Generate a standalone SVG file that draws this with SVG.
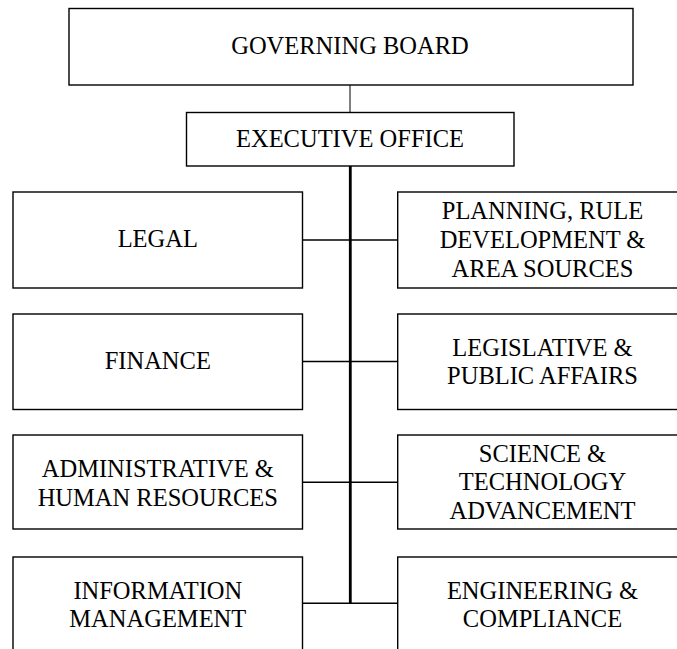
<svg xmlns="http://www.w3.org/2000/svg" width="677" height="649" viewBox="0 0 677 649">
<style>
.box{fill:#fff;stroke:#000;stroke-width:1.4}
.t{font-family:"Liberation Serif","Times New Roman",serif;font-size:24.5px;fill:#000;text-anchor:middle}
.c{stroke:#000;stroke-width:1.4;fill:none}
.thin{stroke:#000;stroke-width:1;fill:none}
.thick{stroke:#000;stroke-width:2.8;fill:none}
</style>
<rect width="677" height="649" fill="#fff"/>
<g id="connectors">
<line class="thin" x1="350" y1="85" x2="350" y2="112"/>
<line class="thick" x1="350.3" y1="166" x2="350.3" y2="603.8"/>
<line class="c" x1="302.5" y1="240" x2="397.7" y2="240"/>
<line class="c" x1="302.5" y1="361.5" x2="397.7" y2="361.5"/>
<line class="c" x1="302.5" y1="482.3" x2="397.7" y2="482.3"/>
<line class="c" x1="302.5" y1="603.3" x2="397.7" y2="603.3"/>
</g>
<g id="governing-board">
<rect class="box" x="69" y="8.5" width="564" height="76.5"/>
<text class="t" x="350" y="54">GOVERNING BOARD</text>
</g>
<g id="executive-office">
<rect class="box" x="186.5" y="112.5" width="327.5" height="53.5"/>
<text class="t" x="350" y="146.5">EXECUTIVE OFFICE</text>
</g>
<g id="legal">
<rect class="box" x="13" y="192" width="289.5" height="96"/>
<text class="t" x="157.8" y="247">LEGAL</text>
</g>
<g id="planning">
<rect class="box" x="397.7" y="192" width="290" height="96"/>
<text class="t" x="542.5"><tspan x="542.5" y="219.3">PLANNING, RULE</tspan><tspan x="542.5" y="248">DEVELOPMENT &amp;</tspan><tspan x="542.5" y="276.7">AREA SOURCES</tspan></text>
</g>
<g id="finance">
<rect class="box" x="13" y="314" width="289.5" height="95.5"/>
<text class="t" x="157.8" y="369">FINANCE</text>
</g>
<g id="legislative">
<rect class="box" x="397.7" y="314" width="290" height="95.5"/>
<text class="t" x="542.5"><tspan x="542.5" y="355.5">LEGISLATIVE &amp;</tspan><tspan x="542.5" y="384">PUBLIC AFFAIRS</tspan></text>
</g>
<g id="administrative">
<rect class="box" x="13" y="435" width="289.5" height="94"/>
<text class="t" x="157.8"><tspan x="157.8" y="477">ADMINISTRATIVE &amp;</tspan><tspan x="157.8" y="505.5">HUMAN RESOURCES</tspan></text>
</g>
<g id="science">
<rect class="box" x="397.7" y="435" width="290" height="94"/>
<text class="t" x="542.5"><tspan x="542.5" y="461.6">SCIENCE &amp;</tspan><tspan x="542.5" y="490.3">TECHNOLOGY</tspan><tspan x="542.5" y="519">ADVANCEMENT</tspan></text>
</g>
<g id="information">
<rect class="box" x="13" y="557" width="289.5" height="96"/>
<text class="t" x="157.8"><tspan x="157.8" y="598.5">INFORMATION</tspan><tspan x="157.8" y="626.5">MANAGEMENT</tspan></text>
</g>
<g id="engineering">
<rect class="box" x="397.7" y="557" width="290" height="96"/>
<text class="t" x="542.5"><tspan x="542.5" y="598.5">ENGINEERING &amp;</tspan><tspan x="542.5" y="626.5">COMPLIANCE</tspan></text>
</g>
</svg>
